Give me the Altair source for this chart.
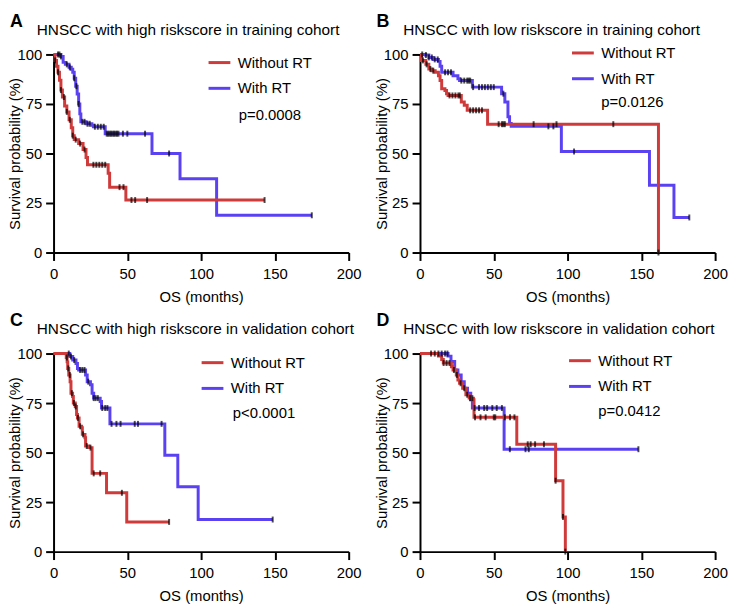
import altair as alt
import pandas as pd

RED = "#cf3a3b"
BLUE = "#5a42f2"
FONT = "Liberation Sans"
GROUPS = ["Without RT", "With RT"]
X_TICKS = [0, 50, 100, 150, 200]
Y_TICKS = [0, 25, 50, 75, 100]

# ---------------- Panel A: high riskscore, training ----------------
A_WO_T = [0, 1, 2, 3, 4, 5, 6, 7.5, 9, 10.5, 12, 13, 14, 17, 20, 22, 23, 37, 38, 49, 143]
A_WO_S = [100, 97, 94, 91, 87, 82, 78.5, 74, 71, 67, 63, 59, 57, 55, 52, 48, 44.3, 40, 33, 26.5, 26.5]
A_WO_C = [1, 3, 5, 7, 9, 11, 13, 15, 18, 21, 27, 29, 31, 33, 35, 44.7, 47.4, 52.8, 55.3, 63.4, 143]
A_W_T = [0, 5, 6.5, 8, 10.5, 12, 13, 14, 15, 16, 17, 17.8, 18.5, 22, 26, 27, 35, 66.7, 85.7, 110.5, 175]
A_W_S = [100, 99, 96, 95, 93.5, 92.5, 91, 88, 84, 80, 75, 70, 66, 65, 64.3, 63.5, 60, 50, 37.3, 18.8, 18.8]
A_W_C = [3, 4, 5, 9, 11, 14, 15.5, 17, 19.5, 21, 23, 24.5, 28, 30, 32, 34, 36, 37, 38, 39, 40, 41, 42, 43,
         44, 47, 50, 62, 78.3, 175]

# ---------------- Panel B: low riskscore, training ----------------
B_WO_T = [0, 1, 4, 6, 8, 10.3, 12.5, 13.6, 14.7, 16.9, 18, 19, 28, 30, 32, 45.8, 161.6]
B_WO_S = [100, 97, 95, 92.7, 91.8, 91, 89.3, 86.8, 82.7, 81.8, 80.2, 79.3, 76, 74.3, 71.8, 64.8, 0]
B_WO_C = [2, 4.5, 7, 9, 20, 22, 24, 26, 27, 34, 36, 38, 40, 42, 53.3, 55.5, 56.5, 57.5, 77, 92.5, 131, 161.6]
B_W_T = [0, 3.7, 6, 9, 12.5, 13.6, 14.7, 22.4, 25.7, 26.8, 35.5, 55.3, 57.5, 59.6, 60.7, 61.8, 95.8, 155.5,
         172.1, 182.5]
B_W_S = [100, 99.7, 98.5, 97.5, 96.5, 94, 91, 89.2, 87.7, 86.8, 83.5, 80.2, 76, 68.5, 65.2, 63.7, 51, 34,
         17.7, 17.7]
B_W_C = [1.5, 4, 6, 8, 10, 12, 17, 19, 21, 28, 30, 32, 33, 34, 36, 40, 42, 44, 46, 48, 50, 56.5, 87, 90.4,
         104.4, 182.5]

# ---------------- Panel C: high riskscore, validation ----------------
C_WO_T = [0, 8.6, 9.2, 9.6, 10.3, 11.2, 11.8, 12.9, 13.4, 14.7, 15.6, 16.2, 17.3, 19, 19.5, 21.3, 21.7,
          23.9, 26.1, 35.9, 49.6, 78.3]
C_WO_S = [100, 98, 95.8, 92.5, 89.2, 85.8, 80, 78.3, 75, 73.3, 69.2, 67.5, 63.3, 62.5, 59.2, 57.5, 53.3,
          52.5, 39.5, 29.7, 15, 15]
C_WO_C = [9, 10, 11, 12.4, 13.8, 15, 16.5, 18, 20, 22.5, 25, 27.2, 31.6, 46.3, 78.3]
C_W_T = [0, 11, 13, 15.2, 16.2, 17, 21.7, 22.8, 25, 26.1, 27.2, 31.6, 32.5, 38.2, 75.4, 84.2, 98, 148.5]
C_W_S = [100, 98.5, 96.7, 95, 92.5, 91.7, 89.2, 85.8, 84.2, 80, 77.5, 75.8, 72.5, 64.5, 48.7, 32.8, 16.2, 16.2]
C_W_C = [10.3, 11.8, 14, 18, 19.5, 21, 23.5, 27.2, 28.5, 30, 33, 35, 36.5, 39.3, 42.6, 45.4, 55, 57.2,
         73.2, 148.5]

# ---------------- Panel D: low riskscore, validation ----------------
D_WO_T = [0, 12.5, 14.7, 15.8, 21.3, 22.4, 24.6, 25.7, 26.8, 28.9, 31.1, 33.3, 36.2, 36.6, 65.6, 91.9,
          96.9, 98.5]
D_WO_S = [100, 98.7, 97, 95.2, 93.3, 91.7, 89.2, 86.7, 85, 82.5, 79.2, 77.5, 76.7, 67.8, 54.2, 35.8, 17.5, 0]
D_WO_C = [16, 18, 20, 23, 25, 27.5, 30, 32, 34, 35.5, 37.3, 41, 44.5, 50, 51, 57.5, 61, 64, 73, 75, 78,
          84, 91.9, 96.9, 98.5]
D_W_T = [0, 19, 21, 23.5, 25.7, 27.9, 30, 32.2, 34.4, 35.5, 57, 148]
D_W_S = [100, 98.7, 96, 91.7, 89.2, 85.8, 82.5, 80, 76.7, 72.5, 51.7, 51.7]
D_W_C = [7.5, 10, 12.5, 14.7, 17, 18.6, 37, 40, 43.5, 45.5, 49, 52, 55.5, 60.9, 71.5, 73.7, 148]

W = 298
H = 200


def step_value(ts, ss, t):
    v = ss[0]
    for ti, si in zip(ts, ss):
        if ti <= t + 1e-9:
            v = si
        else:
            break
    return v


def panel(letter, title, pval, wo, w, leg, ptxt):
    rows, cens = [], []
    for grp, (ts, ss, cs) in (("With RT", w), ("Without RT", wo)):
        for t, s in zip(ts, ss):
            rows.append({"t": t, "s": s, "grp": grp})
        for c in cs:
            cens.append({"t": c, "s": step_value(ts, ss, c), "grp": grp})
    df = pd.DataFrame(rows)
    cdf = pd.DataFrame(cens)

    x = alt.X("t:Q", scale=alt.Scale(domain=[0, 200], nice=False),
              axis=alt.Axis(values=X_TICKS, title="OS (months)", labelFlush=False,
                            labelPadding=6, titlePadding=8))
    y = alt.Y("s:Q", scale=alt.Scale(domain=[0, 100], nice=False),
              axis=alt.Axis(values=Y_TICKS, title="Survival probability (%)", labelPadding=4,
                            titleX=-31, titleBaseline="bottom"))

    lines = alt.Chart(df).mark_line(interpolate="step-after", strokeWidth=3).encode(
        x=x, y=y,
        color=alt.Color("grp:N", scale=alt.Scale(domain=GROUPS, range=[RED, BLUE]),
                        legend=alt.Legend(title=None, orient="none", legendX=leg[0], legendY=leg[1],
                                          symbolType="stroke", symbolStrokeWidth=3, symbolSize=484,
                                          labelFontSize=15, labelFont=FONT, labelColor="black",
                                          labelOffset=6, rowPadding=5, padding=0)),
    )
    ticks = alt.Chart(cdf).mark_tick(orient="vertical", color="black", size=6, thickness=2).encode(
        x=x, y=y)

    one = pd.DataFrame({"k": [0]})
    let = alt.Chart(one).mark_text(text=letter, fontSize=18, fontWeight="bold", font=FONT, align="left",
                                   baseline="top", color="black").encode(
        x=alt.value(-44), y=alt.value(-42))
    ttl = alt.Chart(one).mark_text(text=title, fontSize=15.5, font=FONT, align="left",
                                   baseline="alphabetic", color="black").encode(
        x=alt.value(-17), y=alt.value(-20))
    ptx = alt.Chart(one).mark_text(text=pval, fontSize=15, font=FONT, align="left",
                                   baseline="middle", color="black").encode(
        x=alt.value(ptxt[0]), y=alt.value(ptxt[1]))
    return alt.layer(lines, ticks, let, ttl, ptx).properties(width=W, height=H)


pA = panel("A", "HNSCC with high riskscore in training cohort", "p=0.0008",
           (A_WO_T, A_WO_S, A_WO_C), (A_W_T, A_W_S, A_W_C), (155, -4.3), (187, 61))
pB = panel("B", "HNSCC with low riskscore in training cohort", "p=0.0126",
           (B_WO_T, B_WO_S, B_WO_C), (B_W_T, B_W_S, B_W_C), (152, -14), (183, 48))
pC = panel("C", "HNSCC with high riskscore in validation cohort", "p<0.0001",
           (C_WO_T, C_WO_S, C_WO_C), (C_W_T, C_W_S, C_W_C), (148, -3.3), (181, 60))
pD = panel("D", "HNSCC with low riskscore in validation cohort", "p=0.0412",
           (D_WO_T, D_WO_S, D_WO_C), (D_W_T, D_W_S, D_W_C), (149, -5.3), (180, 58))

chart = alt.concat(pA, pB, pC, pD, columns=2, spacing={"row": 8, "column": 13}).resolve_scale(
    color="independent").resolve_legend(color="independent").properties(
    padding={"top": 2, "left": 0, "right": 0, "bottom": 0}).configure_view(
    stroke=None).configure_axis(
    domainColor="black", domainWidth=2, tickColor="black", tickWidth=2, tickSize=8,
    labelFontSize=15, labelFont=FONT, labelColor="black",
    titleFont=FONT, titleFontSize=15, titleFontWeight="normal", titleColor="black",
    grid=False)

chart.save("out.html", embed_options={"renderer": "svg", "actions": False})
